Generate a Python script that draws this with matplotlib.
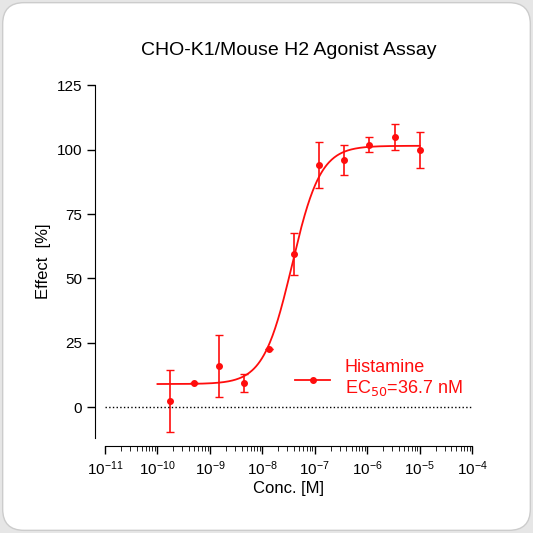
import numpy as np
import matplotlib.pyplot as plt
from matplotlib.patches import FancyBboxPatch

plt.rcParams['font.family'] = ['Liberation Sans', 'DejaVu Sans']
conc = [1.7e-10, 5e-10, 1.5e-9, 4.5e-9, 1.35e-8, 4e-8, 1.2e-7, 3.6e-7, 1.1e-6, 3.3e-6, 1e-5]
effect = [2.5, 9.5, 16, 9.5, 22.5, 59.5, 94, 96, 102, 105, 100]
err = [12, 0, 12, 3.5, 0, 8, 9, 6, 3, 5, 7]
bottom, top, ec50, hill = 9.0, 101.5, 36.7e-9, 1.6

fig = plt.figure(figsize=(5.33, 5.33), dpi=100)
fig.patch.set_facecolor('#e6e6e6')
fig.patches.append(FancyBboxPatch((0.005, 0.005), 0.99, 0.99, boxstyle='round,pad=0,rounding_size=0.04',
                                  transform=fig.transFigure, facecolor='white', edgecolor='#cccccc', zorder=-1))
ax = fig.add_axes([0.197, 0.178, 0.689, 0.662])
ax.patch.set_alpha(0)
red = '#ff0d0d'
xs = np.logspace(-10.0, -5, 400)
ys = bottom + (top - bottom) / (1 + (ec50 / xs) ** hill)
ax.plot(xs, ys, color=red, lw=1.3)
ax.errorbar(conc, effect, yerr=err, fmt='o', color=red, ms=4, capsize=3, elinewidth=1.2)
ax.axhline(0, color='black', ls=':', lw=1)
ax.set_xscale('log')
ax.set_xlim(1e-11, 1e-4)
ax.set_ylim(-12, 125)
ax.set_yticks([0, 25, 50, 75, 100, 125])
ax.set_xticks([10.0 ** k for k in range(-11, -3)])
ax.xaxis.set_minor_locator(plt.matplotlib.ticker.LogLocator(base=10, subs=np.arange(2, 10), numticks=20))
ax.xaxis.set_minor_formatter(plt.NullFormatter())
for s in ['top', 'right']:
    ax.spines[s].set_visible(False)
ax.spines['bottom'].set_position(('outward', 6))
ax.spines['left'].set_position(('outward', 7))
ax.spines['left'].set_bounds(-12, 125)
ax.tick_params(axis='both', labelsize=11, width=1, length=6)
ax.tick_params(axis='x', which='minor', length=3.5)
ax.set_xlabel('Conc. [M]', fontsize=12, labelpad=2)
ax.set_ylabel('Effect  [%]', fontsize=12)
ax.set_title('CHO-K1/Mouse H2 Agonist Assay', fontsize=14, pad=22)
ax.plot([10 ** -7.37, 10 ** -6.71], [10.5, 10.5], color=red, lw=1.3)
ax.plot([10 ** -7.04], [10.5], 'o', color=red, ms=4)
fig.text(0.647, 0.29, 'Histamine\nEC$_{50}$=36.7 nM', color=red, fontsize=13, va='center', linespacing=1.1)
fig.savefig('out.png', dpi=100)
